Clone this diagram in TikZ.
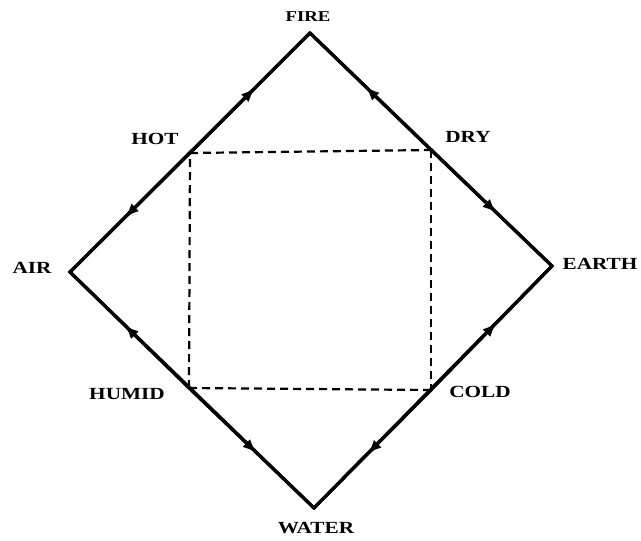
\documentclass[tikz,border=0pt]{standalone}
\usepackage{fontspec}
\setmainfont{Liberation Serif}[FakeStretch=1.25]
\usetikzlibrary{arrows.meta,decorations.markings}
\tikzset{
  side/.style={line width=3.2pt, line join=miter},
  halfside/.style={line width=3.2pt, postaction={decorate},
    decoration={markings, mark=at position 0.54 with {\arrow{Latex[length=14pt,width=11pt]}}}},
  qline/.style={line width=2.2pt, dash pattern=on 8pt off 5pt},
  lbl/.style={font=\bfseries\fontsize{17}{17}\selectfont, inner sep=0pt, anchor=center}
}
\begin{document}
\begin{tikzpicture}[x=1pt,y=-1pt]
\useasboundingbox (0,0) rectangle (641,541);
% elements (vertices)
\coordinate (fire) at (310,33);
\coordinate (air) at (70,272);
\coordinate (earth) at (552,266);
\coordinate (water) at (314,508);
% qualities
\coordinate (hot) at (190,153);
\coordinate (dry) at (431,150);
\coordinate (humid) at (189,388);
\coordinate (cold) at (431,390);
% diamond
\draw[side] (fire) -- (earth) -- (water) -- (air) -- cycle;
% arrows from qualities to elements
\draw[halfside] (hot) -- (fire);
\draw[halfside] (hot) -- (air);
\draw[halfside] (dry) -- (fire);
\draw[halfside] (dry) -- (earth);
\draw[halfside] (humid) -- (air);
\draw[halfside] (humid) -- (water);
\draw[halfside] (cold) -- (earth);
\draw[halfside] (cold) -- (water);
% dashed square
\draw[qline] (hot) -- (dry);
\draw[qline] (dry) -- (cold);
\draw[qline] (cold) -- (humid);
\draw[qline] (humid) -- (hot);
% labels
\node[lbl, font=\bfseries\fontsize{15}{15}\selectfont] (lfire) at (308,17) {FIRE};
\node[lbl] (lhot) at (155,139) {HOT};
\node[lbl] (ldry) at (468,137) {DRY};
\node[lbl] (lair) at (32,268) {AIR};
\node[lbl] (learth) at (600,264) {EARTH};
\node[lbl] (lhumid) at (127,394) {HUMID};
\node[lbl] (lcold) at (480,392) {COLD};
\node[lbl] (lwater) at (316,528) {WATER};
\end{tikzpicture}
\end{document}
